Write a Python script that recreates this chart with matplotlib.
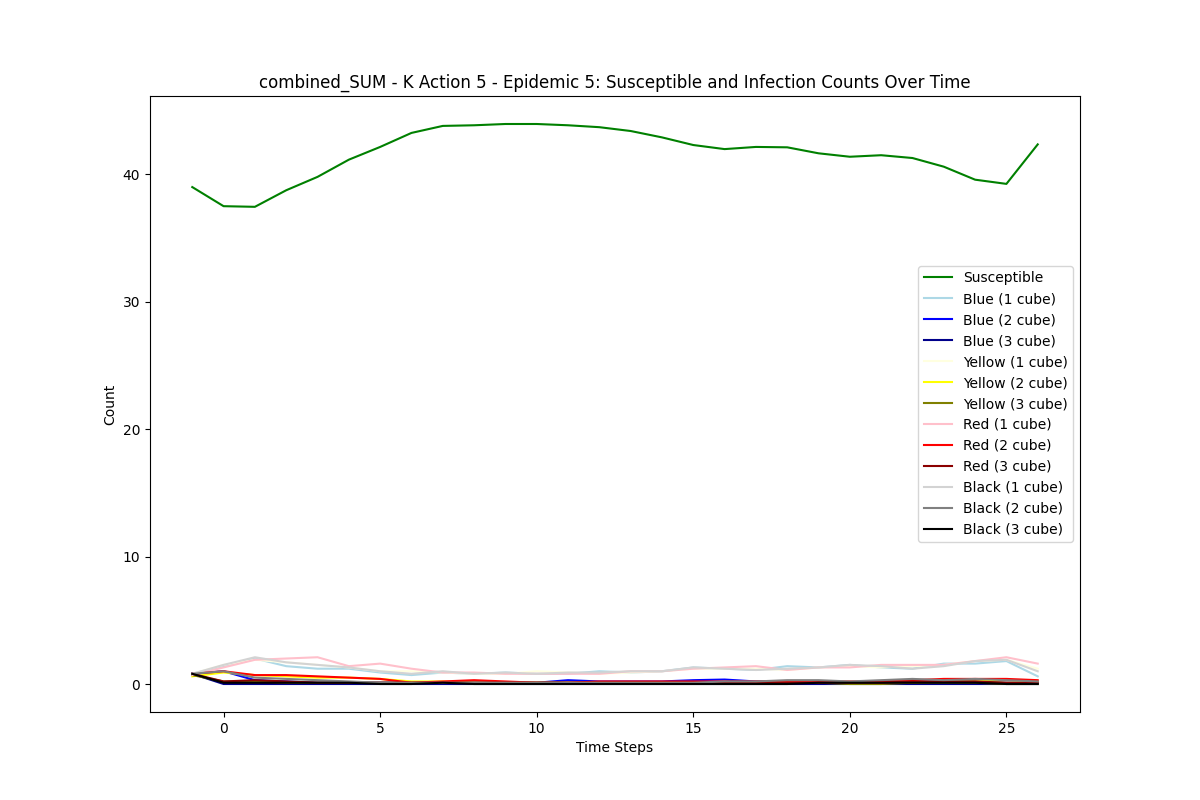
import matplotlib
matplotlib.use("Agg")
import matplotlib.pyplot as plt

time_steps = list(range(-1, 27))

susceptible = [39.0, 37.5, 37.45, 38.75, 39.8, 41.15, 42.15, 43.25, 43.8, 43.85, 43.95, 43.95, 43.85, 43.7, 43.4, 42.9, 42.3, 41.98, 42.15, 42.12, 41.65, 41.38, 41.5, 41.28, 40.6, 39.58, 39.25, 42.35]

blue1 = [0.8, 1.4, 2.0, 1.4, 1.2, 1.2, 0.9, 0.7, 0.9, 0.8, 0.9, 0.8, 0.8, 1.0, 0.9, 1.0, 1.3, 1.2, 1.1, 1.4, 1.3, 1.5, 1.3, 1.2, 1.6, 1.6, 1.8, 0.6]
blue2 = [0.8, 1.0, 0.3, 0.2, 0.1, 0.1, 0.1, 0.1, 0.1, 0.1, 0.1, 0.1, 0.3, 0.2, 0.2, 0.2, 0.3, 0.35, 0.2, 0.2, 0.2, 0.1, 0.2, 0.2, 0.2, 0.2, 0.1, 0.1]
blue3 = [0.8, 0.0, 0.0, 0.0, 0.0, 0.0, 0.0, 0.0, 0.0, 0.0, 0.0, 0.0, 0.0, 0.0, 0.0, 0.0, 0.0, 0.0, 0.0, 0.0, 0.0, 0.0, 0.0, 0.0, 0.0, 0.0, 0.0, 0.0]
yellow1 = [0.8, 1.5, 1.9, 1.7, 1.5, 1.3, 1.0, 1.0, 0.9, 0.8, 0.8, 1.0, 0.9, 0.8, 0.9, 1.0, 1.2, 1.2, 1.2, 1.1, 1.3, 1.4, 1.3, 1.4, 1.5, 1.8, 1.9, 1.2]
yellow2 = [0.6, 0.9, 0.7, 0.6, 0.5, 0.5, 0.4, 0.2, 0.2, 0.1, 0.1, 0.1, 0.1, 0.1, 0.1, 0.1, 0.1, 0.1, 0.1, 0.1, 0.1, 0.1, 0.1, 0.1, 0.2, 0.2, 0.3, 0.2]
yellow3 = [0.7, 0.2, 0.2, 0.1, 0.1, 0.1, 0.1, 0.1, 0.1, 0.1, 0.1, 0.1, 0.1, 0.1, 0.1, 0.1, 0.1, 0.1, 0.1, 0.1, 0.1, 0.0, 0.0, 0.1, 0.1, 0.1, 0.0, 0.0]
red1 = [0.7, 1.3, 1.9, 2.0, 2.1, 1.4, 1.6, 1.2, 0.9, 0.9, 0.8, 0.8, 0.8, 0.8, 1.0, 1.0, 1.2, 1.3, 1.4, 1.1, 1.3, 1.3, 1.5, 1.5, 1.5, 1.8, 2.1, 1.6]
red2 = [0.8, 1.0, 0.7, 0.7, 0.6, 0.5, 0.4, 0.1, 0.2, 0.3, 0.2, 0.1, 0.1, 0.2, 0.2, 0.2, 0.2, 0.2, 0.2, 0.2, 0.2, 0.2, 0.2, 0.3, 0.4, 0.4, 0.4, 0.3]
red3 = [0.8, 0.2, 0.3, 0.2, 0.1, 0.1, 0.1, 0.1, 0.1, 0.1, 0.1, 0.1, 0.1, 0.1, 0.1, 0.1, 0.1, 0.1, 0.1, 0.1, 0.1, 0.1, 0.1, 0.2, 0.2, 0.2, 0.1, 0.1]
black1 = [0.8, 1.5, 2.1, 1.7, 1.5, 1.3, 1.0, 0.8, 1.0, 0.8, 0.9, 0.8, 0.9, 0.9, 1.0, 1.0, 1.3, 1.2, 1.1, 1.2, 1.3, 1.5, 1.4, 1.2, 1.4, 1.8, 1.9, 1.0]
black2 = [0.8, 1.0, 0.5, 0.4, 0.3, 0.2, 0.1, 0.1, 0.1, 0.1, 0.1, 0.1, 0.1, 0.1, 0.1, 0.1, 0.1, 0.2, 0.2, 0.3, 0.3, 0.2, 0.3, 0.4, 0.3, 0.4, 0.3, 0.2]
black3 = [0.8, 0.1, 0.1, 0.1, 0.1, 0.1, 0.0, 0.0, 0.1, 0.0, 0.0, 0.0, 0.0, 0.0, 0.0, 0.0, 0.0, 0.0, 0.0, 0.0, 0.1, 0.1, 0.1, 0.1, 0.1, 0.1, 0.0, 0.0]

series = [
    ("Susceptible", susceptible, "green"),
    ("Blue (1 cube)", blue1, "lightblue"),
    ("Blue (2 cube)", blue2, "blue"),
    ("Blue (3 cube)", blue3, "darkblue"),
    ("Yellow (1 cube)", yellow1, "lightyellow"),
    ("Yellow (2 cube)", yellow2, "yellow"),
    ("Yellow (3 cube)", yellow3, "olive"),
    ("Red (1 cube)", red1, "pink"),
    ("Red (2 cube)", red2, "red"),
    ("Red (3 cube)", red3, "darkred"),
    ("Black (1 cube)", black1, "lightgray"),
    ("Black (2 cube)", black2, "gray"),
    ("Black (3 cube)", black3, "black"),
]

fig, ax = plt.subplots(figsize=(12, 8), dpi=100)
for label, vals, color in series:
    ax.plot(time_steps, vals, label=label, color=color)
ax.set_xlabel("Time Steps")
ax.set_ylabel("Count")
ax.set_title("combined_SUM - K Action 5 - Epidemic 5: Susceptible and Infection Counts Over Time")
ax.legend(loc="center right")
fig.savefig("out.png")
